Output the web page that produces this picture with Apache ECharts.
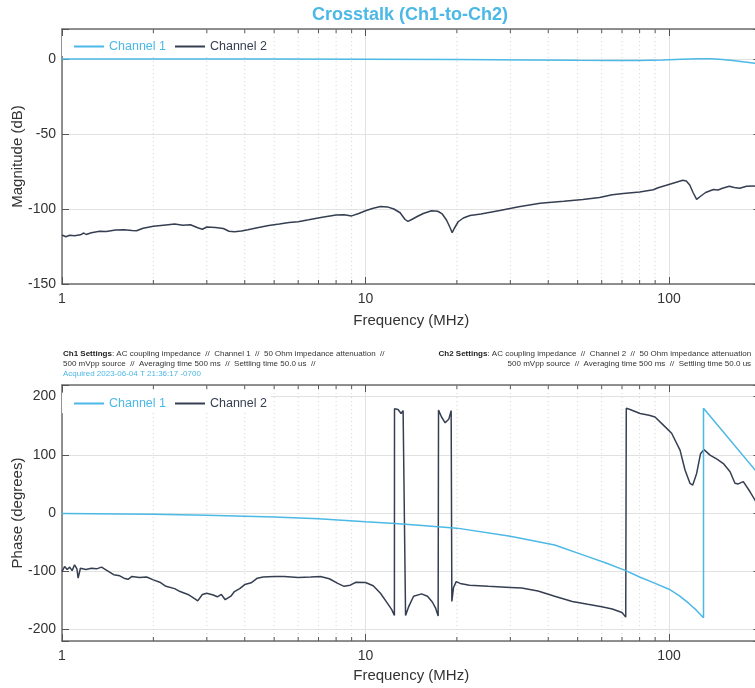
<!DOCTYPE html>
<html>
<head>
<meta charset="utf-8">
<script src="https://cdn.jsdelivr.net/npm/echarts@6/dist/echarts.min.js"></script>
<style>
html,body{margin:0;padding:0;background:#fff;}
#chart{width:755px;height:688px;}
</style>
</head>
<body>
<div id="chart"></div>
<script>
// ---------------- DATA ----------------
const seriesNames = ['Channel 1', 'Channel 2'];
const xTickLabels = [1, 10, 100];
const magTickLabels = [-150, -100, -50, 0];
const phaseTickLabels = [-200, -100, 0, 100, 200];
const minorGridFreq = [2, 3, 4, 5, 6, 7, 8, 9, 20, 30, 40, 50, 60, 70, 80, 90, 200];

// Magnitude, Channel 1 (MHz, dB)
const ch1MagFreq = [1, 5, 10, 20, 35, 50, 65, 80, 95, 110, 125, 138, 150, 162, 175, 192, 200];
const ch1MagDb   = [0, 0, -0.1, -0.3, -0.6, -0.9, -1.0, -1.0, -0.7, -0.2, 0.2, 0.2, -0.3, -1.0, -1.8, -2.9, -3.5];

// Magnitude, Channel 2 (MHz, dB)
const ch2MagFreq = [1, 1.03, 1.06, 1.076, 1.1, 1.15, 1.18, 1.2, 1.25, 1.33, 1.4, 1.5, 1.6, 1.7, 1.76, 1.85, 2.0, 2.2, 2.35, 2.5, 2.65, 2.8, 2.9, 3.0, 3.2, 3.4, 3.55, 3.7, 3.9, 4.1, 4.4, 4.8, 5.2, 5.6, 6.0, 6.5, 7.2, 8.0, 8.5, 9.0, 9.5, 10, 10.6, 11.2, 11.8, 12.4, 13.0, 13.5, 13.8, 14.2, 14.8, 15.5, 16.5, 17.3, 17.9, 18.5, 19.0, 19.3, 19.6, 20.2, 21, 22.1, 24, 27.7, 32, 37.6, 45, 52, 59, 65, 70.7, 80, 88.8, 92, 98, 105, 111, 114, 117, 120, 123.3, 127, 132, 140, 145, 150, 158, 164, 171, 180, 190, 200];
const ch2MagDb   = [-117.3, -118.5, -117.5, -118.7, -117.8, -117.2, -116, -117, -115.8, -114.8, -115, -114, -113.8, -114.3, -114.5, -112.8, -111.5, -110.6, -110, -110.8, -110.5, -112.5, -113.5, -112, -112.3, -113, -114.8, -115.2, -114.6, -113.8, -112.5, -111, -110, -109, -108.5, -107.2, -105.5, -104, -103.8, -104.6, -103, -101.2, -99.5, -98.4, -98.6, -100, -102.5, -107, -108.3, -107, -105, -103, -101.2, -101.5, -103.3, -107.5, -112.5, -115.8, -113, -108.5, -106, -104.3, -103.3, -101, -98.5, -96.2, -94.8, -93.6, -92.3, -90.5, -89.6, -88.6, -87.2, -85.8, -84.2, -82.3, -80.8, -81.3, -84, -89, -93.6, -91.5, -89, -87, -87.3, -86.2, -84.8, -85.7, -86.2, -84.8, -84.6, -86];

// Phase, Channel 1 (MHz, degrees) - wraps at about 130 MHz
const ch1PhaseFreq = [1, 2, 3, 5, 7, 10, 12.5, 15, 20, 30, 42, 54, 62, 72, 80, 90, 100, 108, 116, 123, 129.9, 129.9, 200];
const ch1PhaseDeg  = [-1, -2, -4, -7, -10, -15, -18, -21, -26, -40, -55, -75, -86, -99, -110, -121, -131, -142, -155, -167, -180, 180, 63];

// Phase, Channel 2 (MHz, degrees)
const ch2PhaseFreq = [1, 1.02, 1.04, 1.06, 1.08, 1.1, 1.12, 1.13, 1.15, 1.2, 1.25, 1.3, 1.35, 1.4, 1.48, 1.55, 1.6, 1.65, 1.7, 1.8, 1.9, 2.0, 2.1, 2.2, 2.35, 2.45, 2.6, 2.75, 2.8, 2.9, 3.0, 3.15, 3.25, 3.35, 3.45, 3.5, 3.6, 3.7, 3.85, 4.0, 4.2, 4.4, 4.6, 5.0, 5.4, 6.0, 6.6, 7.1, 7.6, 8.1, 8.5, 8.9, 9.3, 10, 10.6, 11.2, 11.8, 12.2, 12.45, 12.46, 12.8, 13.1, 13.3, 13.5, 13.55, 13.9, 14.4, 15.3, 16, 16.6, 17.0, 17.35, 17.4, 17.8, 18.3, 18.8, 19.15, 19.25, 19.5, 19.9, 20.5, 22, 25.4, 30, 32.7, 37, 42, 48, 54, 60, 65, 70, 72, 72.3, 74.4, 80.3, 86, 89.9, 95.8, 102, 108.7, 112.9, 117.2, 119.7, 123.3, 127, 130.4, 136.5, 144.3, 151, 158.9, 164.9, 169, 175.7, 184.9, 192, 200];
const ch2PhaseDeg  = [-100.6, -92, -97, -93, -99, -89, -96, -112, -95, -97, -95, -96, -93, -98, -106, -108, -112, -114, -109, -111, -110, -115, -119, -126, -130, -135, -140, -148, -151, -140, -138, -141, -144, -140, -149, -151, -143, -135, -130, -123, -120, -112, -110, -109, -109, -111, -110, -109, -113, -121, -126, -124, -119, -119.5, -125, -138, -155, -166, -176, 179, 178, 171, 176, 175, -176, -160, -143, -139, -143, -153, -163, -177, 177, 165, 155, 161, 176, -152, -128, -118, -121, -124, -126, -128, -129, -134, -143, -152, -157, -161, -165, -171, -179, 180, 178, 171, 168, 165, 151, 137, 108, 74, 51, 48, 68, 102, 109, 99.5, 92, 85, 71, 51, 50, 54, 36.5, 22, 10];

// ---------------- CHART ----------------
const C1 = '#4cb8e6';
const C2 = '#363f52';
const FONT = '"Liberation Sans", Arial, Helvetica, sans-serif';
const AXIS_COLOR = '#6e6e6e';
const zip = (a, b) => a.map((v, i) => [v, b[i]]);
const isDecade = v => Math.abs(Math.log10(v) - Math.round(Math.log10(v))) < 1e-6;

const GRID_LEFT = 62, GRID_W = 698.4;
const grids = [
  { left: GRID_LEFT, top: 29, width: GRID_W, height: 255, containLabel: false, outerBoundsMode: 'none' },
  { left: GRID_LEFT, top: 385, width: GRID_W, height: 256, containLabel: false, outerBoundsMode: 'none' }
];
const yRanges = [[-150, 20], [-220, 220]];

function xAxes(gi) {
  const common = {
    type: 'log', logBase: 10, gridIndex: gi, min: 1, max: 200,
    axisLine: { show: true, onZero: false, lineStyle: { color: AXIS_COLOR, width: 1.5 } },
    axisTick: { show: true, inside: true, length: 7, lineStyle: { color: '#555', width: 1 } },
    minorTick: { show: false }
  };
  return [
    Object.assign({}, common, {
      position: 'bottom',
      splitLine: { show: true, lineStyle: { color: '#e2e2e2', width: 1 } },
      axisLabel: {
        show: true, fontSize: 14, color: '#333', fontFamily: FONT, margin: 8,
        formatter: v => (isDecade(v) && xTickLabels.includes(Math.round(v)) ? String(Math.round(v)) : '')
      },
      name: 'Frequency (MHz)', nameLocation: 'middle', nameGap: gi === 0 ? 29 : 27,
      nameTextStyle: { fontSize: 15, color: '#333', fontFamily: FONT }
    }),
    Object.assign({}, common, {
      position: 'top',
      splitLine: { show: false },
      axisLabel: { show: false }
    })
  ];
}

function yAxes(gi, labels, name) {
  const r = yRanges[gi];
  const common = {
    type: 'value', gridIndex: gi, min: r[0], max: r[1],
    axisLine: { show: true, onZero: false, lineStyle: { color: AXIS_COLOR, width: 1.5 } },
    axisTick: { show: true, inside: true, length: 7, lineStyle: { color: '#555', width: 1 } }
  };
  if (gi === 0) common.interval = 50;
  return [
    Object.assign({}, common, {
      position: 'left',
      splitLine: { show: true, lineStyle: { color: '#e2e2e2', width: 1 } },
      axisLabel: {
        show: true, fontSize: 14, color: '#333', fontFamily: FONT, margin: 6,
        showMinLabel: true, showMaxLabel: true,
        formatter: v => (labels.includes(v) ? String(v) : '')
      },
      name: name, nameLocation: 'middle', nameGap: 37, nameRotate: 90, nameMoveOverlap: false,
      nameTextStyle: { fontSize: 15, color: '#333', fontFamily: FONT }
    }),
    Object.assign({}, common, {
      position: 'right',
      splitLine: { show: false },
      axisLabel: { show: false }
    })
  ];
}

function minorSeries(gi) {
  const r = yRanges[gi];
  return {
    type: 'custom', name: 'minor' + gi, xAxisIndex: gi * 2, yAxisIndex: gi * 2,
    silent: true, z: 1, clip: false,
    data: minorGridFreq.map(f => [f, r[0]]),
    renderItem: (params, api) => {
      const f = api.value(0);
      const top = api.coord([f, r[1]]);
      const bot = api.coord([f, r[0]]);
      return {
        type: 'group',
        children: [
          { type: 'line', shape: { x1: top[0], y1: top[1], x2: bot[0], y2: bot[1] },
            style: { stroke: '#d4d4d4', lineWidth: 1, lineDash: [1, 3] } },
          { type: 'line', shape: { x1: top[0], y1: top[1], x2: top[0], y2: top[1] + 4 },
            style: { stroke: '#555', lineWidth: 1 } },
          { type: 'line', shape: { x1: bot[0], y1: bot[1], x2: bot[0], y2: bot[1] - 4 },
            style: { stroke: '#555', lineWidth: 1 } }
        ]
      };
    }
  };
}

function lineSeries(name, color, gi, data) {
  return {
    type: 'line', name: name, xAxisIndex: gi * 2, yAxisIndex: gi * 2,
    data: data, symbol: 'none', showSymbol: false, smooth: false,
    lineStyle: { color: color, width: 1.5 }, itemStyle: { color: color },
    z: 3, animation: false
  };
}

function legend(top) {
  return {
    left: 62, top: top, orient: 'horizontal',
    backgroundColor: '#ffffff',
    padding: [4, 4, 3, 11],
    itemWidth: 30, itemHeight: 14, itemGap: 8,
    itemStyle: { color: 'rgba(0,0,0,0)', borderColor: 'rgba(0,0,0,0)', borderWidth: 0, opacity: 0 },
    textStyle: { fontSize: 12.5, fontFamily: FONT },
    data: [
      { name: seriesNames[0], textStyle: { color: C1 } },
      { name: seriesNames[1], textStyle: { color: C2 } }
    ],
    selectedMode: false
  };
}

const textLines = [
  { x: 63, y: 353.5, align: 'left', text: '{b|Ch1 Settings}: AC coupling impedance  //  Channel 1  //  50 Ohm impedance attenuation  //', fill: '#333' },
  { x: 63, y: 364, align: 'left', text: '500 mVpp source  //  Averaging time 500 ms  //  Settling time 50.0 us  //', fill: '#333' },
  { x: 63, y: 374, align: 'left', text: 'Acquired 2023-06-04 T 21:36:17 -0700', fill: C1 },
  { x: 760, y: 353.5, align: 'right', text: '{b|Ch2 Settings}: AC coupling impedance  //  Channel 2  //  50 Ohm impedance attenuation  //', fill: '#333' },
  { x: 760, y: 364, align: 'right', text: '500 mVpp source  //  Averaging time 500 ms  //  Settling time 50.0 us  //', fill: '#333' }
];

const graphics = [{
  type: 'text', x: 410, y: 15, z: 10,
  style: { text: 'Crosstalk (Ch1-to-Ch2)', align: 'center', verticalAlign: 'middle',
           fontSize: 18, fontWeight: 'bold', fontFamily: FONT, fill: C1 }
}].concat(textLines.map(t => ({
  type: 'text', x: t.x, y: t.y, z: 10,
  style: { text: t.text, align: t.align, verticalAlign: 'middle', fontSize: 8, fontFamily: FONT, fill: t.fill,
           rich: { b: { fontWeight: 'bold', fontSize: 8, fontFamily: FONT, fill: '#222' } } }
})));

const option = {
  backgroundColor: '#ffffff',
  animation: false,
  grid: grids,
  xAxis: xAxes(0).concat(xAxes(1)),
  yAxis: yAxes(0, magTickLabels, 'Magnitude (dB)').concat(yAxes(1, phaseTickLabels, 'Phase (degrees)')),
  legend: [legend(36), legend(393)],
  graphic: graphics,
  series: [
    minorSeries(0),
    minorSeries(1),
    lineSeries(seriesNames[1], C2, 0, zip(ch2MagFreq, ch2MagDb)),
    lineSeries(seriesNames[0], C1, 0, zip(ch1MagFreq, ch1MagDb)),
    lineSeries(seriesNames[1], C2, 1, zip(ch2PhaseFreq, ch2PhaseDeg)),
    lineSeries(seriesNames[0], C1, 1, zip(ch1PhaseFreq, ch1PhaseDeg))
  ]
};

const chart = echarts.init(document.getElementById('chart'), null, { renderer: 'canvas' });
chart.setOption(option);
</script>
</body>
</html>
